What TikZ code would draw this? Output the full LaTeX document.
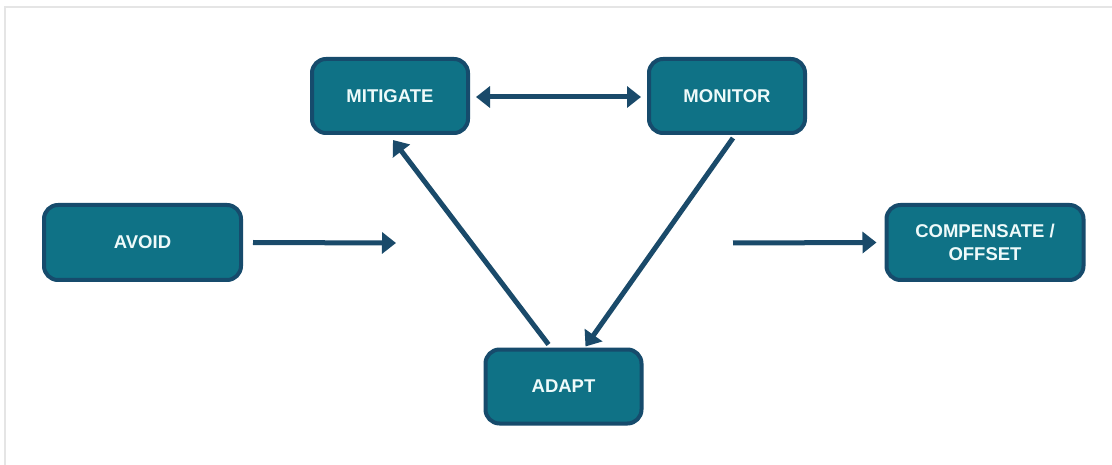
\documentclass[tikz,border=0pt]{standalone}
\usepackage{fontspec}
\setmainfont{Liberation Sans}
\usetikzlibrary{arrows.meta,calc}
\definecolor{boxfill}{HTML}{0F7286}
\definecolor{boxline}{HTML}{164B6C}
\definecolor{arrowc}{HTML}{1A4A6A}
\definecolor{txt}{HTML}{EEFAFA}
\begin{document}
\begin{tikzpicture}[x=1pt,y=-1pt,
  box/.style={draw=boxline, fill=boxfill, line width=4pt, rounded corners=14pt,
    minimum width=156pt, minimum height=74pt, text=txt, align=center,
    font=\bfseries\fontsize{18.5}{23}\selectfont, inner sep=0pt},
  widebox/.style={box, minimum width=197pt, minimum height=75pt},
  tip/.tip={Triangle[length=14pt,width=21pt]},
  conn/.style={draw=arrowc, line width=5pt, -tip},
  biconn/.style={draw=arrowc, line width=5pt, tip-tip}]
\useasboundingbox (0,0) rectangle (1112,465);
\fill[white] (0,0) rectangle (1112,465);
\draw[black!10, line width=1.5pt] (5,465) -- (5,7) -- (1112,7);
\node[box] (mitigate) at (390,96) {MITIGATE};
\node[box] (monitor) at (727,96) {MONITOR};
\node[widebox] (avoid) at (142.5,242.5) {AVOID};
\node[widebox] (comp) at (985,242.5) {COMPENSATE /\\OFFSET};
\node[box] (adapt) at (563.5,386.5) {ADAPT};
\coordinate (avoidend) at (396,243);
\coordinate (compstart) at (733,243);
\draw[conn] (avoid.east) ++(10,0) -- (avoidend);
\draw[conn] (compstart) -- ($(comp.west)+(-8,0)$);
\draw[biconn] ($(mitigate.east)+(6,1)$) -- ($(monitor.west)+(-6,1)$);
\draw[conn] ($(adapt.north)+(-15,-3)$) -- ($(mitigate.south)+(3,5)$);
\draw[conn] ($(monitor.south)+(6,3)$) -- ($(adapt.north)+(22,-1)$);
\end{tikzpicture}
\end{document}
